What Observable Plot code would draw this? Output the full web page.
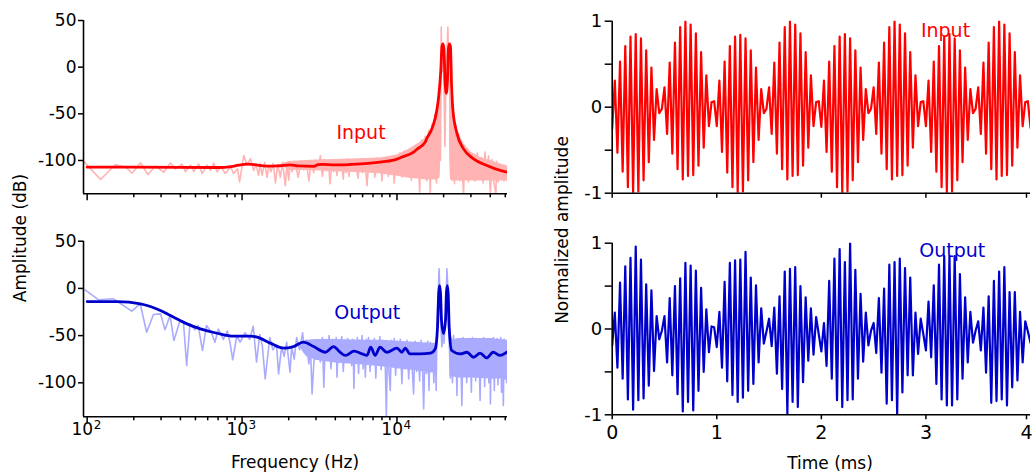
<!DOCTYPE html>
<html><head><meta charset="utf-8">
<script src="https://cdn.jsdelivr.net/npm/d3@7"></script>
<script src="https://cdn.jsdelivr.net/npm/@observablehq/plot@0.6"></script>
<style>
html,body{margin:0;padding:0;background:#fff;}
#chart{position:relative;width:1033px;height:475px;overflow:hidden;font-family:"DejaVu Sans",sans-serif;color:#000;}
#chart svg{position:absolute;overflow:visible;}
.t{position:absolute;white-space:nowrap;font-size:17px;line-height:17px;transform:translate(-50%,-50%);}
.r{transform:translate(-50%,-50%) rotate(-90deg);}
</style></head><body><div id="chart"></div>
<script>
// ---------- tick labels / categories ----------
const freqMajorTicks = [100, 1000, 10000];
const freqMinorTicks = [200,300,400,500,600,700,800,900,2000,3000,4000,5000,6000,7000,8000,9000,20000,30000,40000,50000];
const freqTickBase = "10";
const freqTickExponents = {100: "2", 1000: "3", 10000: "4"};
const dbTicks = [50, 0, -50, -100];
const timeTicks = [0, 1, 2, 3, 4];
const ampTicks = [-1, -0.5, 0, 0.5, 1];
const ampLabeledTicks = [-1, 0, 1];

// ---------- spectra: [frequency Hz, amplitude dB] ----------
const inputSpectrumRaw = [
[96,-101.8],[122,-120.4],[152,-104.6],[177,-107],[195,-113.6],[221,-102.5],[247,-115],[276,-106],[312,-112.5],[345,-102.8],
[371,-109],[410,-104],[431,-112],[464,-105],[488,-112],[525,-103.6],[552,-114],[595,-105],[625,-110.7],[656,-102.8],
[689,-112],[731,-107],[780,-114],[842,-107],[882,-114],[935,-109],[964,-123],[1026,-94.6],[1076,-105],[1130,-98],
[1188,-110.7],[1230,-104],[1277,-116],[1310,-103.6],[1346,-116],[1400,-102],[1449,-118],[1490,-105],[1538,-112],[1590,-103],
[1641,-124],[1700,-104],[1766,-118],[1830,-102],[1900,-127],[1950,-103],[1998,-121],[2050,-102],
[2100,-112],[2200,-101],[2300,-118],[2400,-100.5],[2500,-110],[2600,-101.5],[2700,-122],[2800,-100],[2900,-113],[3000,-101],
[3100,-109],[3200,-95],[3300,-117],[3400,-99],[3500,-111],[3600,-100],[3700,-125],[3800,-99.5],[3900,-112],[4000,-100],
[4100,-116],[4200,-99],[4300,-110],[4400,-100],[4500,-120],[4600,-99],[4700,-113],[4800,-98.5],[4900,-117],[5000,-100],
[5200,-111],[5400,-99],[5600,-119],[5800,-98.5],[6000,-113],[6200,-99],[6400,-127],[6600,-98],[6800,-112],[7000,-98.5],
[7200,-118],[7400,-97.5],[7600,-110],[7800,-98],[8000,-122],[8200,-97],[8400,-114],[8600,-97.5],[8800,-117],[9000,-96.5],
[9200,-111],[9400,-96],[9600,-124],[9800,-95.5],[10000,-113],
[10400,-92],[10800,-118],[11200,-90],[11600,-112],[12000,-88],[12400,-121],[12800,-85],[13200,-116],[13600,-82],[14000,-134],
[14400,-78],[14800,-117],[15200,-74],[15600,-122],[16000,-68],[16400,-136],[16800,-61],[17200,-119],[17600,-50],[18000,-124],
[18300,-40],[18600,-118],[18900,-26],[19100,-100],[19300,43],[19500,-5],[19800,18],[20100,-20],[20400,-85],[20700,-10],
[21000,15],[21300,43],[21600,0],[21900,-30],[22200,-118],[22500,-38],[22800,-121],[23100,-50],
[23500,-125],[24000,-62],[24500,-118],[25000,-72],[25500,-122],[26000,-79],[26500,-117],[26900,-136],[27500,-85],[28000,-120],
[28500,-89],[29000,-123],[29500,-92],[30000,-118],
[31000,-94],[32000,-122],[33000,-92],[34000,-119],[35000,-97],[36000,-124],[37000,-91],[38000,-120],[39000,-95],[40100,-136],
[41000,-99],[42000,-121],[43500,-136],[44000,-101],[45000,-123],[46000,-104],[47000,-120],[48000,-105],[49000,-122],[50000,-106],
[51000,-121],[51700,-108]
];
// dense noise floor of the input trace: [frequency, low dB, high dB]
const inputSpectrumBand = [
[1800,-105,-104],[2000,-110.5,-101],[3000,-111,-99.5],[4000,-112,-99],[5000,-112.5,-98.5],[6500,-113.5,-98],[8000,-114.5,-97],
[10000,-117,-94],[12000,-119,-88],[14000,-120,-81],[15500,-121,-75],[16500,-121,-68],[17500,-121,-57],[18300,-121,-42],
[18900,-118,-26],[19200,-95,5],
[19700,NaN,NaN],
[21900,-95,-28],[22200,-121,-32],[22700,-122,-45],[23500,-122,-58],[25000,-122,-70],[27000,-122,-82],[30000,-122,-91],
[35000,-122,-97],[40000,-122,-100],[45000,-122,-103],[51700,-122,-106]
];
const inputSpectrumSmooth = [
[100,-107.2],[200,-107.2],[400,-107.3],[700,-107.5],[850,-106.5],[950,-105],[1076,-103.8],[1200,-104.5],[1449,-106],[1700,-105.8],
[2040,-104.6],[2300,-105.8],[2897,-106.3],[3100,-104.5],[3300,-104.2],[4000,-104.8],[5000,-104.3],[6500,-103.2],[8000,-101.5],[10000,-98.5],
[10500,-97],[12800,-91],[13460,-88],[15240,-80],[15620,-76],[16600,-68],[17220,-61],[18000,-48],[18550,-33],[19220,-1],
[19500,22],[19800,25],[20100,20],[20400,-12],[20800,-28],[21200,-12],[21500,20],[21800,25],[22150,22],[22500,-18],
[22970,-46],[24390,-71],[26900,-87.5],[31200,-98.2],[38070,-105.4],[46400,-110.7],[51260,-112.5]
];
const outputSpectrumRaw = [
[97,-1.5],[118,-12],[148,-11],[194,-24],[220,-16.3],[242,-46.4],[268,-27.6],[298,-27],[318,-43.9],[343,-28.6],
[363,-55.2],[398,-34],[418,-35],[439,-81.7],[461,-37.5],[496,-43.9],[521,-39.3],[555,-65.8],[589,-39.3],[634,-46.4],
[668,-57],[703,-43],[757,-54],[804,-45],[837,-58],[870,-75.6],[925,-50],[971,-57],[1045,-47],[1120,-54],
[1180,-40],[1240,-78],[1300,-49],[1350,-60],[1410,-95.8],[1510,-52],[1580,-65],[1670,-60],[1720,-90.5],[1800,-62],
[1870,-72],[1940,-57],[2040,-88.8],[2090,-62],[2170,-75],[2250,-52],[2350,-65],[2460,-47],[2530,-68],[2600,-55],
[2700,-80],[2760,-58],[2830,-111.7],[2950,-60],[3010,-75],
[3100,-55],[3200,-78],[3300,-52],[3370,-104.7],[3450,-56],[3550,-72],[3650,-50],[3750,-85],[3850,-54],[3950,-70],
[4050,-52],[4100,-94],[4200,-56],[4300,-75],[4400,-51],[4500,-88],[4600,-55],[4700,-78],[4800,-53],[4900,-70],
[5000,-58],[5100,-82],[5200,-54],[5270,-106],[5350,-57],[5450,-76],[5550,-52],[5650,-90],[5750,-55],[5850,-73],
[5950,-50],[6050,-85],[6150,-56],[6250,-94],[6350,-54],[6450,-78],[6550,-52],[6700,-88],[6850,-56],[7000,-74],
[7150,-53],[7300,-95],[7450,-57],[7600,-80],[7750,-51],[7900,-86],[8050,-55],[8200,-76],[8350,-58],[8540,-136],
[8700,-56],[8850,-84],[9050,-108],[9200,-55],[9400,-78],[9600,-53],[9800,-92],[10000,-56],[10250,-80],[10500,-54],
[10760,-101],[11000,-57],[11300,-85],[11600,-55],[11900,-96],[12200,-58],[12500,-80],[12800,-111.7],[13100,-56],[13400,-88],
[13700,-57],[14000,-98],[14300,-55],[14600,-82],[14870,-127.6],[15200,-58],[15500,-90],[15800,-56],[16100,-108],[16400,-57],
[16700,-85],[17000,-60],[17300,-100],[17660,-58],[17900,-108],[18100,-45],[18400,-10],[18700,20.7],[18950,-5],[19200,-40],
[19500,-62],[19800,-44],[20100,-58],[20400,-40],[20700,-25],[21000,20.7],[21250,5],[21500,-38],[21800,-62],[22100,-95],
[22400,-52],[22800,-100],[23200,-50],[23600,-85],[24000,-55],[24390,-113.5],[24800,-53],[25200,-92],[25700,-56],[26230,-124],
[26700,-52],[27200,-88],[27700,-55],[28200,-100],[28700,-53],[29200,-84],[29700,-57],[30200,-110],[30700,-52],[31200,-90],
[31700,-55],[32200,-98],[32700,-53],[33200,-86],[33700,-56],[34400,-118.8],[35000,-54],[35600,-92],[36200,-52],[36800,-104],
[37400,-55],[38000,-87],[38600,-53],[39200,-100],[39800,-56],[40100,-122.3],[40700,-54],[41300,-95],[41900,-52],[42500,-108],
[43100,-55],[43700,-90],[44300,-53],[44900,-102],[45500,-56],[46100,-88],[46700,-52],[47300,-110],[47900,-55],[48600,-124],
[49200,-54],[49800,-96],[50400,-56],[51000,-100],[51600,-58]
];
// dense noise floor of the output trace: [frequency, low dB, high dB]
const outputSpectrumBand = [
[2300,-60,-58],[2600,-72,-55],[3000,-76,-54],[4000,-79,-54],[6000,-81,-55],[8000,-83,-55],[10000,-85,-56],[13000,-87,-57],
[16000,-89,-58],[17600,-90,-58],
[18000,NaN,NaN],
[22000,-93,-55],[25000,-95,-53],[30000,-95,-53],[40000,-96,-53],[51700,-96,-55]
];
const outputSpectrumSmooth = [
[100,-13.9],[156,-14],[221,-16.4],[256,-19.2],[297,-23.4],[362,-30.5],[441,-37.6],[538,-42.9],[689,-47.5],[882,-50.6],
[1130,-50.6],[1252,-51.7],[1523,-58],[1856,-63.3],[2147,-61.6],[2485,-57],[2897,-61.6],[3450,-67.6],[3900,-61.6],[4290,-67.6],
[4650,-71],[5270,-66.5],[5960,-69.4],[6400,-71],[6770,-62.3],[7230,-71],[7770,-62.3],[8580,-67.6],[10000,-63.3],[10760,-67.6],
[11300,-63.3],[12140,-69.4],[14120,-69.4],[16450,-68.6],[17660,-64],[18270,-41],[18600,-5],[18830,3],[19100,-5],[19390,-34],
[19970,-48],[20570,-34],[20850,-5],[21110,3],[21400,-5],[21730,-41],[22550,-65.8],[25600,-69.4],[28300,-67.6],[31200,-72.9],
[34400,-68.6],[37900,-73.6],[41800,-67.6],[46300,-71],[51200,-67.6]
];

// ---------- time signals (normalized), one sample every 0.025 ms ----------
const sampleStepMs = 0.025;
const inputSignal = [
-0.25,0.31,-0.53,0.53,-0.75,0.71,-0.93,0.82,-0.99,0.85,-0.98,0.80,-0.85,0.66,-0.64,0.46,-0.38,0.21,-0.07,-0.02,
0.23,-0.31,0.52,-0.54,0.75,-0.72,0.93,-0.84,1.00,-0.80,0.96,-0.79,0.86,-0.68,0.64,-0.47,0.37,-0.22,0.06,0.07,
-0.22,0.31,-0.52,0.53,-0.76,0.71,-0.93,0.82,-0.99,0.84,-0.98,0.80,-0.85,0.66,-0.64,0.46,-0.38,0.21,-0.07,-0.02,
0.23,-0.31,0.52,-0.54,0.75,-0.72,0.93,-0.84,1.00,-0.80,0.96,-0.79,0.86,-0.68,0.64,-0.47,0.37,-0.22,0.06,0.07,
-0.23,0.31,-0.52,0.53,-0.75,0.71,-0.93,0.82,-0.99,0.85,-0.98,0.80,-0.85,0.66,-0.64,0.46,-0.38,0.21,-0.07,-0.02,
0.23,-0.31,0.52,-0.54,0.75,-0.72,0.93,-0.84,1.00,-0.80,0.96,-0.79,0.86,-0.68,0.64,-0.47,0.37,-0.22,0.06,0.07,
-0.22,0.31,-0.52,0.53,-0.75,0.71,-0.93,0.82,-0.99,0.85,-0.98,0.80,-0.85,0.66,-0.64,0.46,-0.38,0.21,-0.07,-0.02,
0.23,-0.31,0.52,-0.54,0.75,-0.72,0.93,-0.84,1.00,-0.80,0.96,-0.79,0.86,-0.68,0.64,-0.47,0.37,-0.22,0.06,0.07,
-0.24
];
const outputSignal = [
-0.19,0.19,-0.45,0.54,-0.58,0.73,-0.82,0.83,-0.94,0.96,-0.83,0.81,-0.81,0.52,-0.66,0.45,-0.49,0.15,-0.12,-0.02,
0.15,-0.39,0.36,-0.54,0.50,-0.76,0.59,-0.96,0.77,-0.85,0.74,-0.95,0.68,-0.72,0.48,-0.50,0.23,-0.27,0.03,0.02,
-0.21,0.20,-0.45,0.55,-0.61,0.77,-0.77,0.80,-0.85,0.81,-0.80,0.90,-0.72,0.60,-0.64,0.51,-0.39,0.24,-0.17,-0.03,
0.12,-0.20,0.25,-0.52,0.38,-0.70,0.67,-0.99,0.70,-0.85,0.72,-0.91,0.50,-0.62,0.37,-0.37,0.24,-0.30,0.14,-0.06,
-0.26,0.07,-0.43,0.56,-0.58,0.82,-0.83,0.93,-0.91,0.78,-0.83,1.00,-0.82,0.69,-0.58,0.41,-0.38,0.19,-0.19,-0.02,
0.07,-0.28,0.36,-0.51,0.47,-0.87,0.75,-0.83,0.78,-1.00,0.82,-0.74,0.71,-0.54,0.60,-0.54,0.19,-0.29,0.12,-0.06,
-0.25,0.32,-0.33,0.51,-0.64,0.75,-0.82,0.85,-0.89,0.85,-0.89,0.85,-0.82,0.64,-0.58,0.37,-0.39,0.20,-0.16,-0.02,
0.09,-0.25,0.25,-0.51,0.38,-0.86,0.56,-0.84,0.67,-0.82,0.72,-0.89,0.43,-0.68,0.43,-0.60,0.20,-0.39,0.09,-0.03,
-0.16
];

// ---------- styling ----------
const RED = "#ff0000", RED_LIGHT = "#ffb3b3";
const BLUE = "#0000cc", BLUE_LIGHT = "#aaabff";
const freqDomain = [94.7, 51700];
const timeDomain = [0, 4];
const ampDomain = [-1, 1];
const baseStyle = {fontFamily: "DejaVu Sans, sans-serif", fontSize: "17px", background: "transparent", overflow: "visible", color: "#000"};
const chart = document.getElementById("chart");

function place(el, left, top) {
  el.style.left = left + "px"; el.style.top = top + "px";
  chart.appendChild(el);
}
function addText(txt, x, y, cls) {
  const d = document.createElement("div");
  d.className = "t" + (cls ? " " + cls : "");
  d.textContent = txt;
  d.style.left = x + "px"; d.style.top = y + "px";
  chart.appendChild(d);
}

function spectrumPanel(o) {
  const raw = o.raw.map(([f, v]) => ({f, v}));
  const band = o.band.map(([f, lo, hi]) => ({f, lo, hi}));
  const smooth = o.smooth.map(([f, v]) => ({f, v}));
  const marks = [
    Plot.areaY(band, {x: "f", y1: "lo", y2: "hi", fill: o.light, clip: true}),
    Plot.line(raw, {x: "f", y: "v", stroke: o.light, strokeWidth: 1.6, clip: true}),
    Plot.line(smooth, {x: "f", y: "v", stroke: o.dark, strokeWidth: 2.8, curve: "monotone-x", clip: true}),
    Plot.ruleX([freqDomain[0]], {stroke: "#000", strokeWidth: 1.6}),
    Plot.ruleY([o.yDomain[0]], {stroke: "#000", strokeWidth: 1.6}),
    Plot.axisY({ticks: dbTicks, tickSize: 5, tickPadding: 2, tickFormat: d => String(d), label: null, strokeWidth: 1.5, fontSize: 17}),
    Plot.axisX({ticks: freqMajorTicks, tickSize: 7, label: null, strokeWidth: 1.5, tickFormat: () => ""}),
    Plot.axisX({ticks: freqMinorTicks, tickSize: 4, label: null, strokeWidth: 1.5, tickFormat: () => ""}),
    Plot.text([o.name], {frameAnchor: "top-left", dx: o.tx, dy: o.ty, text: d => d, fill: o.dark, fontSize: 19, textAnchor: "middle"})
  ];
  if (o.labels) marks.push(
    Plot.text(freqMajorTicks, {x: d => d, frameAnchor: "bottom", text: () => freqTickBase, textAnchor: "end", dx: 6, dy: 18.5, fontSize: 17}),
    Plot.text(freqMajorTicks, {x: d => d, frameAnchor: "bottom", text: d => freqTickExponents[d], textAnchor: "start", dx: 6.5, dy: 12.5, fontSize: 12})
  );
  return Plot.plot({
    width: 520, height: o.height,
    marginLeft: 83, marginRight: 13, marginTop: o.mt, marginBottom: o.mb,
    x: {type: "log", domain: freqDomain},
    y: {domain: o.yDomain},
    style: baseStyle,
    marks
  });
}

function timePanel(o) {
  const sig = o.signal.map((v, i) => ({t: i * sampleStepMs, v}));
  const last = timeTicks[timeTicks.length - 1];
  const marks = [
    Plot.line(sig, {x: "t", y: "v", stroke: o.color, strokeWidth: 2.2, clip: true}),
    Plot.ruleX([timeDomain[0]], {stroke: "#000", strokeWidth: 1.6}),
    Plot.ruleY([ampDomain[0]], {stroke: "#000", strokeWidth: 1.6}),
    Plot.axisY({ticks: ampTicks, tickSize: 7, tickPadding: 3, label: null, strokeWidth: 1.5, fontSize: 18,
                tickFormat: d => ampLabeledTicks.includes(d) ? String(d) : ""}),
    Plot.axisX({ticks: timeTicks.filter(d => d !== last), tickSize: 5, tickPadding: 5.5, label: null, strokeWidth: 1.5, fontSize: 19,
                tickFormat: o.labels ? (d => String(d)) : (() => "")}),
    Plot.axisX({ticks: [last], tickSize: 5, tickPadding: 5.5, label: null, strokeWidth: 1.5, fontSize: 19, dx: -4,
                tickFormat: o.labels ? (d => String(d)) : (() => "")}),
    Plot.text([o.name], {frameAnchor: "top-left", dx: o.tx, dy: o.ty, text: d => d, fill: o.color, fontSize: 19, textAnchor: "middle"})
  ];
  return Plot.plot({
    width: 513, height: o.height,
    marginLeft: 91.7, marginRight: 3, marginTop: o.mt, marginBottom: o.mb,
    x: {domain: timeDomain},
    y: {domain: ampDomain},
    style: baseStyle,
    marks
  });
}

place(spectrumPanel({raw: inputSpectrumRaw, band: inputSpectrumBand, smooth: inputSpectrumSmooth, light: RED_LIGHT, dark: RED,
  height: 215, mt: 20, mb: 21.7, yDomain: [-135.7, 50], labels: false, name: "Input", tx: 277.5, ty: 105.4}), 0, 0);
place(spectrumPanel({raw: outputSpectrumRaw, band: outputSpectrumBand, smooth: outputSpectrumSmooth, light: BLUE_LIGHT, dark: BLUE,
  height: 255, mt: 20.7, mb: 58.7, yDomain: [-136, 50], labels: true, name: "Output", tx: 283.7, ty: 64.3}), 0, 220);
place(timePanel({signal: inputSignal, color: RED, height: 215, mt: 20.7, mb: 22.3, labels: false,
  name: "Input", tx: 333.3, ty: 2.6}), 520, 0);
place(timePanel({signal: outputSignal, color: BLUE, height: 255, mt: 22.7, mb: 60.7, labels: true,
  name: "Output", tx: 340, ty: 0.6}), 520, 220);

addText("Amplitude (dB)", 20, 238, "r");
addText("Normalized amplitude", 562, 230, "r");
addText("Frequency (Hz)", 295, 462);
addText("Time (ms)", 830, 463);
</script></body></html>
